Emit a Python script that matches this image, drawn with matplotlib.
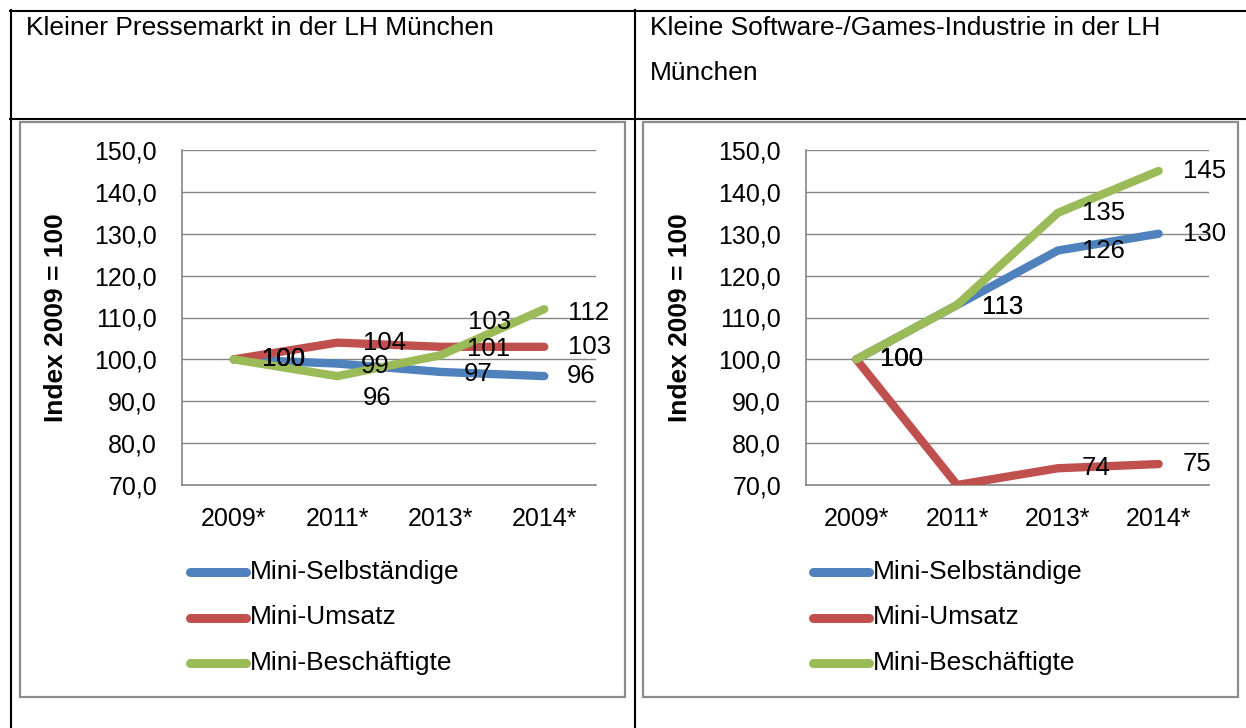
import matplotlib
matplotlib.use("Agg")
import matplotlib.pyplot as plt
from matplotlib.lines import Line2D
from matplotlib.patches import Rectangle

plt.rcParams['font.family'] = ['Liberation Sans', 'DejaVu Sans']

# ---------------- data ----------------
categories = ["2009*", "2011*", "2013*", "2014*"]
series_names = ["Mini-Selbständige", "Mini-Umsatz", "Mini-Beschäftigte"]
colors = ["#4F81BD", "#C0504D", "#9BBB59"]

left_title = "Kleiner Pressemarkt in der LH München"
left_selbst = [100, 99, 97, 96]
left_umsatz = [100, 104, 103, 103]
left_besch = [100, 96, 101, 112]

right_title = "Kleine Software-/Games-Industrie in der LH\n\nMünchen"
right_selbst = [100, 113, 126, 130]
right_umsatz = [100, 70, 74, 75]
right_besch = [100, 113, 135, 145]

y_ticks = [70, 80, 90, 100, 110, 120, 130, 140, 150]
y_label = "Index 2009 = 100"

# label offsets in pixels (dx to left edge, dy up); None = hidden
left_offsets = {
    (0, 0): (28, 0), (0, 1): (23, -2), (0, 2): (23, -2), (0, 3): (22, 0),
    (1, 0): (28, 0), (1, 1): (26, 0), (1, 2): (27, 25), (1, 3): (24, 0),
    (2, 0): (28, 0), (2, 1): (26, -22), (2, 2): (26, 6), (2, 3): (24, -4),
}
right_offsets = {
    (0, 1): (25, -2),
    (1, 1): None,
    (2, 1): (25, -2),
}

W, H = 1246, 728
fig = plt.figure(figsize=(W / 100, H / 100), dpi=100)


def fx(x):
    return x / W


def fy(y):
    return 1 - y / H


# table lines
tbl_kw = dict(color="black", lw=1.5, transform=fig.transFigure)
fig.add_artist(Line2D([fx(10), fx(1246)], [fy(10.5), fy(10.5)], **tbl_kw))
fig.add_artist(Line2D([fx(10), fx(1246)], [fy(119), fy(119)], **tbl_kw))
fig.add_artist(Line2D([fx(10.5), fx(10.5)], [fy(10), fy(728)], **tbl_kw))
fig.add_artist(Line2D([fx(635), fx(635)], [fy(10), fy(728)], **tbl_kw))

# titles
title_fs = 19
fig.text(fx(26), fy(28), left_title, fontsize=title_fs, va="center", ha="left")
fig.text(fx(650), fy(28), right_title.split("\n")[0], fontsize=title_fs, va="center", ha="left")
fig.text(fx(650), fy(73), right_title.split("\n")[-1], fontsize=title_fs, va="center", ha="left")

# chart frames
for (x0, x1) in [(20, 625), (643, 1238)]:
    fig.add_artist(Rectangle((fx(x0), fy(697)), fx(x1) - fx(x0), fy(122) - fy(697),
                             fill=False, edgecolor="#8C8C8C", lw=1.6,
                             transform=fig.transFigure))

gray = "#868686"


def draw_chart(px_left, px_right, data, offsets, legend_x):
    ax = fig.add_axes([fx(px_left), fy(485), fx(px_right) - fx(px_left), fy(150) - fy(485)])
    xs = list(range(len(categories)))
    for si, (vals, col) in enumerate(zip(data, colors)):
        ax.plot(xs, vals, color=col, lw=6, solid_capstyle="round",
                solid_joinstyle="miter", zorder=3 + si)
    for si, vals in enumerate(data):
        for i, v in enumerate(vals):
            off = offsets.get((si, i), (24, 0))
            if off is None:
                continue
            ax.annotate(f"{v:.0f}", (xs[i], v), xytext=off, textcoords="offset pixels",
                        ha="left", va="center", fontsize=18.5, color="black",
                        zorder=10, annotation_clip=False)
    ax.set_xlim(-0.5, len(categories) - 0.5)
    ax.set_ylim(70, 150)
    ax.set_yticks(y_ticks)
    ax.set_yticklabels([f"{t:.1f}".replace(".", ",") for t in y_ticks])
    ax.set_xticks(xs)
    ax.set_xticklabels(categories)
    ax.tick_params(axis="both", length=0, labelsize=18)
    ax.tick_params(axis="y", pad=18)
    ax.tick_params(axis="x", pad=16)
    ax.grid(axis="y", color=gray, lw=1.0, zorder=0)
    ax.set_axisbelow(True)
    for s in ["top", "right"]:
        ax.spines[s].set_visible(False)
    for s in ["left", "bottom"]:
        ax.spines[s].set_color(gray)
        ax.spines[s].set_linewidth(1.2)
    ax.set_ylabel(y_label, fontsize=19, fontweight="bold")
    ax.yaxis.set_label_coords((68 - px_left) / (px_right - px_left), 0.5)
    # legend (manual)
    for k, (name, col) in enumerate(zip(series_names, colors)):
        yy = 572 + k * 45.5
        fig.add_artist(Line2D([fx(legend_x), fx(legend_x + 56)], [fy(yy), fy(yy)],
                              color=col, lw=6.5, solid_capstyle="round",
                              transform=fig.transFigure))
        fig.text(fx(legend_x + 60), fy(yy), name, fontsize=19, va="center", ha="left")
    return ax


ax1 = draw_chart(182, 596, [left_selbst, left_umsatz, left_besch], left_offsets, 190)
ax2 = draw_chart(806, 1209, [right_selbst, right_umsatz, right_besch], right_offsets, 813)
ax2.yaxis.set_label_coords((692 - 806) / (1209 - 806), 0.5)

fig.savefig("out.png", dpi=100)
